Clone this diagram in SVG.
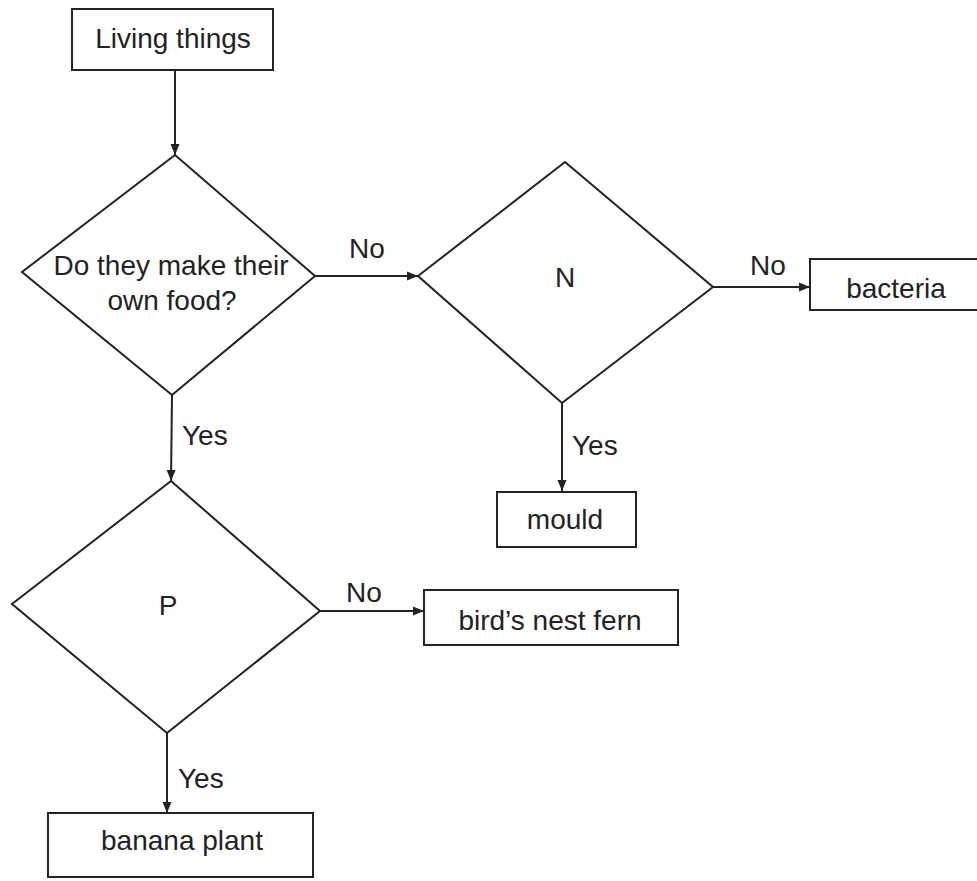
<svg xmlns="http://www.w3.org/2000/svg" width="977" height="881" viewBox="0 0 977 881">
  <defs>
    <marker id="arr" markerWidth="12" markerHeight="10" refX="11" refY="5" orient="auto" markerUnits="userSpaceOnUse">
      <path d="M0,0.5 L11,5 L0,9.5 z" fill="#222"/>
    </marker>
    <style>
      .shape { fill: #fff; stroke: #222; stroke-width: 2; }
      .conn { stroke: #222; stroke-width: 2; fill: none; marker-end: url(#arr); }
      text { font-family: "Liberation Sans", Arial, sans-serif; font-size: 28px; fill: #222; }
      .c { text-anchor: middle; }
    </style>
  </defs>
  <rect width="977" height="881" fill="#fff"/>

  <g id="connectors">
    <line class="conn" x1="175" y1="70" x2="175" y2="155"/>
    <line class="conn" x1="315" y1="276" x2="418" y2="276"/>
    <line class="conn" x1="713" y1="287" x2="810" y2="287"/>
    <line class="conn" x1="562" y1="403" x2="562" y2="491"/>
    <line class="conn" x1="172" y1="395" x2="171" y2="481"/>
    <line class="conn" x1="320" y1="611" x2="424" y2="611"/>
    <line class="conn" x1="167" y1="733" x2="167" y2="813"/>
  </g>

  <g id="edge-labels">
    <text class="c" x="367" y="258">No</text>
    <text class="c" x="768" y="275">No</text>
    <text x="182" y="445">Yes</text>
    <text x="572" y="455">Yes</text>
    <text class="c" x="364" y="602">No</text>
    <text x="178" y="788">Yes</text>
  </g>

  <g id="living-things">
    <rect class="shape" x="72" y="9" width="201" height="61"/>
    <text class="c" x="173" y="48">Living things</text>
  </g>

  <g id="q-own-food">
    <polygon class="shape" points="175,155 315,276 172,395 22,272"/>
    <text class="c" x="171" y="275">Do they make their</text>
    <text class="c" x="172" y="310">own food?</text>
  </g>

  <g id="q-N">
    <polygon class="shape" points="565,162 713,287 562,403 418,276"/>
    <text class="c" x="565" y="287">N</text>
  </g>

  <g id="bacteria">
    <rect class="shape" x="810" y="259" width="185" height="51"/>
    <text class="c" x="896" y="298">bacteria</text>
  </g>

  <g id="mould">
    <rect class="shape" x="497" y="492" width="139" height="55"/>
    <text class="c" x="565" y="529">mould</text>
  </g>

  <g id="q-P">
    <polygon class="shape" points="171,481 320,611 167,733 12,604"/>
    <text class="c" x="168" y="615">P</text>
  </g>

  <g id="birds-nest-fern">
    <rect class="shape" x="424" y="590" width="254" height="55"/>
    <text class="c" x="550" y="630">bird’s nest fern</text>
  </g>

  <g id="banana-plant">
    <rect class="shape" x="48" y="813" width="265" height="64"/>
    <text class="c" x="182" y="850">banana plant</text>
  </g>
</svg>
